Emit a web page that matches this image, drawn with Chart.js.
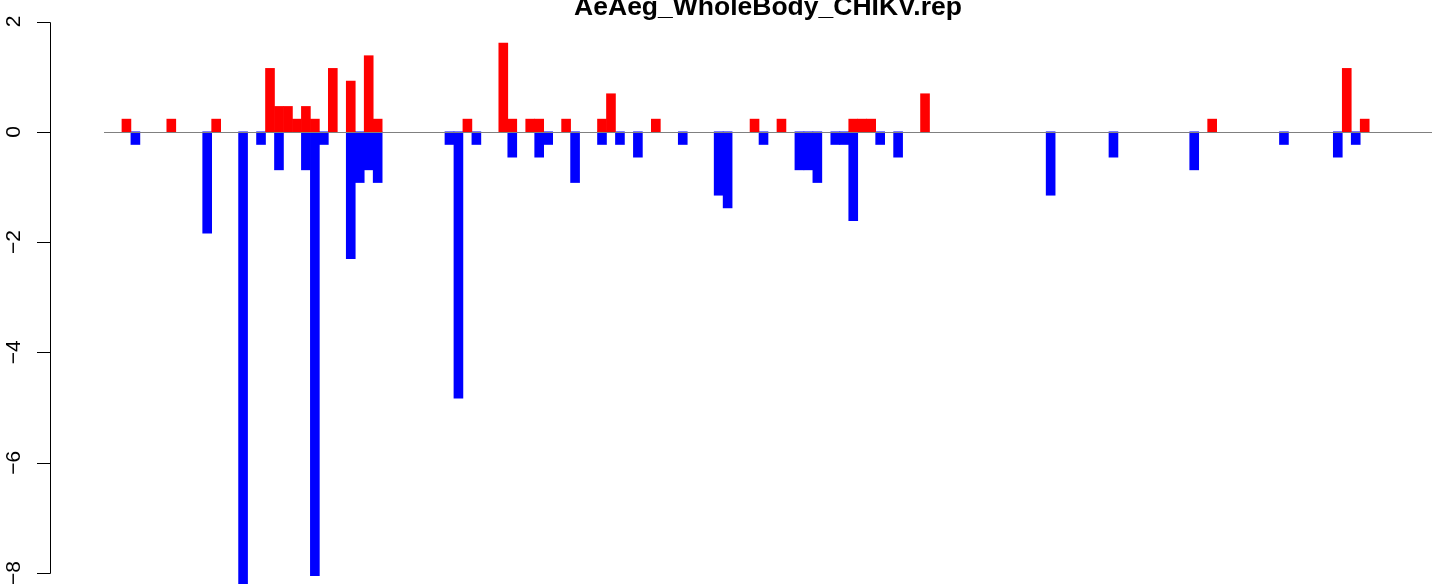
<!DOCTYPE html>
<html>
<head>
<meta charset="utf-8">
<title>AeAeg_WholeBody_CHIKV.rep</title>
<script src="https://cdn.jsdelivr.net/npm/chart.js@4.4.1/dist/chart.umd.min.js"></script>
<style>
  html, body { margin: 0; padding: 0; background: #ffffff; overflow: hidden; }
  #wrap { width: 1444px; height: 584px; position: relative; }
</style>
</head>
<body>
<div id="wrap"><canvas id="c" width="1444" height="584"></canvas></div>
<script>
var chartTitle = "AeAeg_WholeBody_CHIKV.rep";
var slotCount = 148;

// red bars (positive side): slot index and value
var upSlots  = [2, 7, 12, 18, 19, 20, 21, 22, 23, 25, 27, 29, 30, 40, 44, 45, 47, 48, 51, 55, 56, 61, 72, 75, 83, 84, 85, 91, 123, 138, 140];
var upValues = [0.23, 0.23, 0.23, 1.15, 0.46, 0.46, 0.23, 0.46, 0.23, 1.15, 0.92, 1.38, 0.23, 0.23, 1.61, 0.23, 0.23, 0.23, 0.23, 0.23, 0.69, 0.23, 0.23, 0.23, 0.23, 0.23, 0.23, 0.69, 0.23, 1.15, 0.23];

// blue bars (negative side): slot index and value
var downSlots  = [3, 11, 15, 17, 19, 22, 23, 24, 27, 28, 29, 30, 38, 39, 41, 45, 48, 49, 52, 55, 57, 59, 64, 68, 69, 73, 77, 78, 79, 81, 82, 83, 86, 88, 105, 112, 121, 131, 137, 139];
var downValues = [-0.23, -1.84, -8.28, -0.23, -0.69, -0.69, -8.05, -0.23, -2.3, -0.92, -0.69, -0.92, -0.23, -4.83, -0.23, -0.46, -0.46, -0.23, -0.92, -0.23, -0.23, -0.46, -0.23, -1.15, -1.38, -0.23, -0.69, -0.69, -0.92, -0.23, -0.23, -1.61, -0.23, -0.46, -1.15, -0.46, -0.69, -0.23, -0.46, -0.23];

var yTicks = [2, 0, -2, -4, -6, -8];

var FONT = '"Liberation Sans", Arial, Helvetica, sans-serif';

function fillSlots(slots, values) {
	var arr = [];
	for (var i = 0; i < slotCount; i++) arr.push(null);
	for (var j = 0; j < slots.length; j++) arr[slots[j]] = values[j];
	return arr;
}

var labels = [];
for (var i = 0; i < slotCount; i++) labels.push(String(i + 1));

// R-style axis, zero line and title
var rPlot = {
	id: 'rPlot',
	afterDatasetsDraw: function(chart) {
		var ctx = chart.ctx;
		var sy = chart.scales.y;
		var area = chart.chartArea;
		ctx.save();

		// zero line
		var y0 = Math.round(sy.getPixelForValue(0)) + 0.5;
		ctx.strokeStyle = '#808080';
		ctx.lineWidth = 1;
		ctx.beginPath();
		ctx.moveTo(area.left, y0);
		ctx.lineTo(area.right, y0);
		ctx.stroke();

		// left axis
		var ax = 50.5;
		ctx.strokeStyle = '#000000';
		ctx.beginPath();
		ctx.moveTo(ax, Math.round(sy.getPixelForValue(yTicks[0])) + 0.5);
		ctx.lineTo(ax, Math.round(sy.getPixelForValue(yTicks[yTicks.length - 1])) + 0.5);
		for (var k = 0; k < yTicks.length; k++) {
			var py = Math.round(sy.getPixelForValue(yTicks[k])) + 0.5;
			ctx.moveTo(37, py);
			ctx.lineTo(ax, py);
		}
		ctx.stroke();

		ctx.fillStyle = '#000000';
		ctx.font = '21px ' + FONT;
		ctx.textAlign = 'center';
		ctx.textBaseline = 'alphabetic';
		for (var m = 0; m < yTicks.length; m++) {
			var ty = sy.getPixelForValue(yTicks[m]);
			var txt = yTicks[m] < 0 ? '\u2212' + Math.abs(yTicks[m]) : String(yTicks[m]);
			ctx.save();
			ctx.translate(20, ty);
			ctx.rotate(-Math.PI / 2);
			ctx.fillText(txt, 0, 0);
			ctx.restore();
		}

		// title
		ctx.font = 'bold 26.5px ' + FONT;
		ctx.textAlign = 'center';
		ctx.fillText(chartTitle, 768, 15);

		ctx.restore();
	}
};

new Chart(document.getElementById('c'), {
	type: 'bar',
	data: {
		labels: labels,
		datasets: [
			{ data: fillSlots(upSlots, upValues), backgroundColor: '#ff0000', borderWidth: 0 },
			{ data: fillSlots(downSlots, downValues), backgroundColor: '#0000ff', borderWidth: 0 }
		]
	},
	options: {
		responsive: false,
		animation: false,
		events: [],
		layout: { padding: { left: 104, right: 12, top: 16, bottom: 0 } },
		datasets: { bar: { grouped: false, barPercentage: 1, categoryPercentage: 1 } },
		plugins: { legend: { display: false }, tooltip: { enabled: false }, title: { display: false } },
		scales: {
			x: { display: false, offset: true },
			y: { display: false, min: -8.2, max: 2.1 }
		}
	},
	plugins: [rPlot]
});
</script>
</body>
</html>
